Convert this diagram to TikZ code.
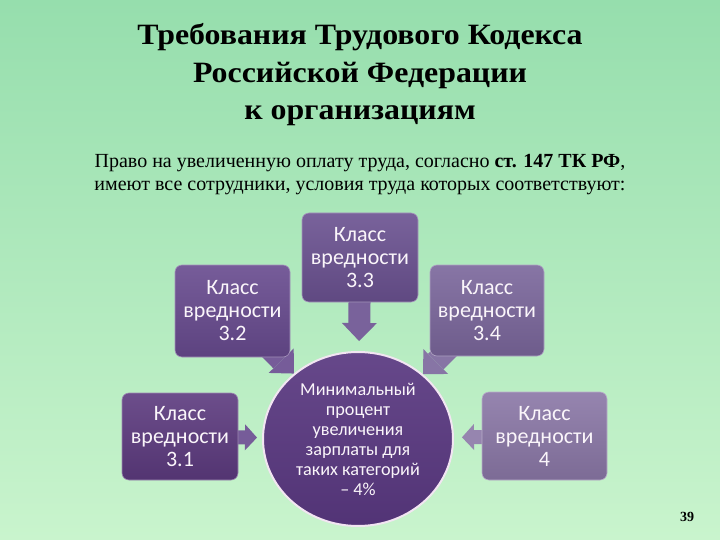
\documentclass[tikz,border=0pt]{standalone}
\usepackage{fontspec}
\setmainfont{Liberation Serif}
\newfontfamily\boxfont{Carlito}
\usetikzlibrary{arrows.meta,shapes.geometric}
\pgfdeclarelayer{bg}
\pgfsetlayers{bg,main}
\definecolor{bgtop}{HTML}{96DEAD}
\definecolor{bgbot}{HTML}{C9F4CD}
\definecolor{cA}{HTML}{5C3A7E}
\definecolor{cB}{HTML}{674A8E}
\definecolor{cC}{HTML}{6A5190}
\definecolor{cD}{HTML}{7A669B}
\definecolor{cE}{HTML}{8A77A6}
\definecolor{circ}{HTML}{593880}
\begin{document}
\begin{tikzpicture}[x=1pt,y=-1pt,
  klass/.style={rounded corners=7pt, draw=#1!60!white, line width=0.6pt,
    top color=#1!90!white, bottom color=#1!90!black, text=white!96!violet,
    font=\boxfont\fontsize{22}{23}\selectfont, align=center, inner sep=0pt},
  bigarrow/.style={line width=22pt, draw=#1,
    -{Triangle[width=35pt,length=18pt,line width=0pt]}},
  smallarrow/.style={line width=14pt, draw=#1,
    -{Triangle[width=26pt,length=12pt,line width=0pt]}},
  titleline/.style={anchor=base, font=\bfseries\fontsize{29.5}{34}\selectfont},
  subline/.style={anchor=base, font=\fontsize{20}{23}\selectfont}]
\useasboundingbox (0,0) rectangle (720,540);
\begin{pgfonlayer}{bg}
\fill[top color=bgtop, bottom color=bgbot] (0,0) rectangle (720,540);
\end{pgfonlayer}

\node[titleline] (t1) at (360,45) {\scalebox{1.08}[1]{Требования Трудового Кодекса}};
\node[titleline] (t2) at (360,82.5) {\scalebox{1.08}[1]{Российской Федерации}};
\node[titleline] (t3) at (360,120) {\scalebox{1.08}[1]{к организациям}};
\node[subline] (s1) at (360,168) {Право на увеличенную оплату труда, согласно \textbf{ст. 147 ТК РФ},};
\node[subline] (s2) at (360,191) {имеют все сотрудники, условия труда которых соответствуют:};

\node[klass=cA, minimum width=116pt, minimum height=87pt] (b31) at (180,436.5) {Класс\\вредности\\3.1};
\node[klass=cB, minimum width=115pt, minimum height=92pt] (b32) at (232.5,311) {Класс\\вредности\\3.2};
\node[klass=cC, minimum width=116pt, minimum height=89pt] (b33) at (360,257.5) {Класс\\вредности\\3.3};
\node[klass=cD, minimum width=114pt, minimum height=91pt] (b34) at (487,310.5) {Класс\\вредности\\3.4};
\node[klass=cE, minimum width=125pt, minimum height=88pt] (b4) at (544.5,436) {Класс\\вредности\\4};

\node[ellipse, minimum width=190pt, minimum height=174pt, draw=white!90!violet, line width=2pt,
  top color=circ!92!white, bottom color=circ!92!black, text=white!96!violet,
  font=\boxfont\fontsize{18.2}{20}\selectfont, align=center, inner sep=0pt] (c) at (358,439)
  {Минимальный\\процент\\увеличения\\зарплаты для\\таких категорий\\– 4\%};

\begin{pgfonlayer}{bg}
\draw[bigarrow=cC!90!white, shorten >=10pt] (b33.center) -- (c);
\draw[bigarrow=cB!90!white] (b32.center) -- (c);
\draw[bigarrow=cD!90!white] (b34.center) -- (c);
\draw[smallarrow=cB!90!white, shorten >=5pt] (b31.center) -- (c);
\draw[smallarrow=cE!90!white, shorten >=8pt] (b4.center) -- (c);
\end{pgfonlayer}

\node[anchor=base, font=\bfseries\fontsize{14}{16}\selectfont] (pg) at (687,521) {39};
\end{tikzpicture}
\end{document}
